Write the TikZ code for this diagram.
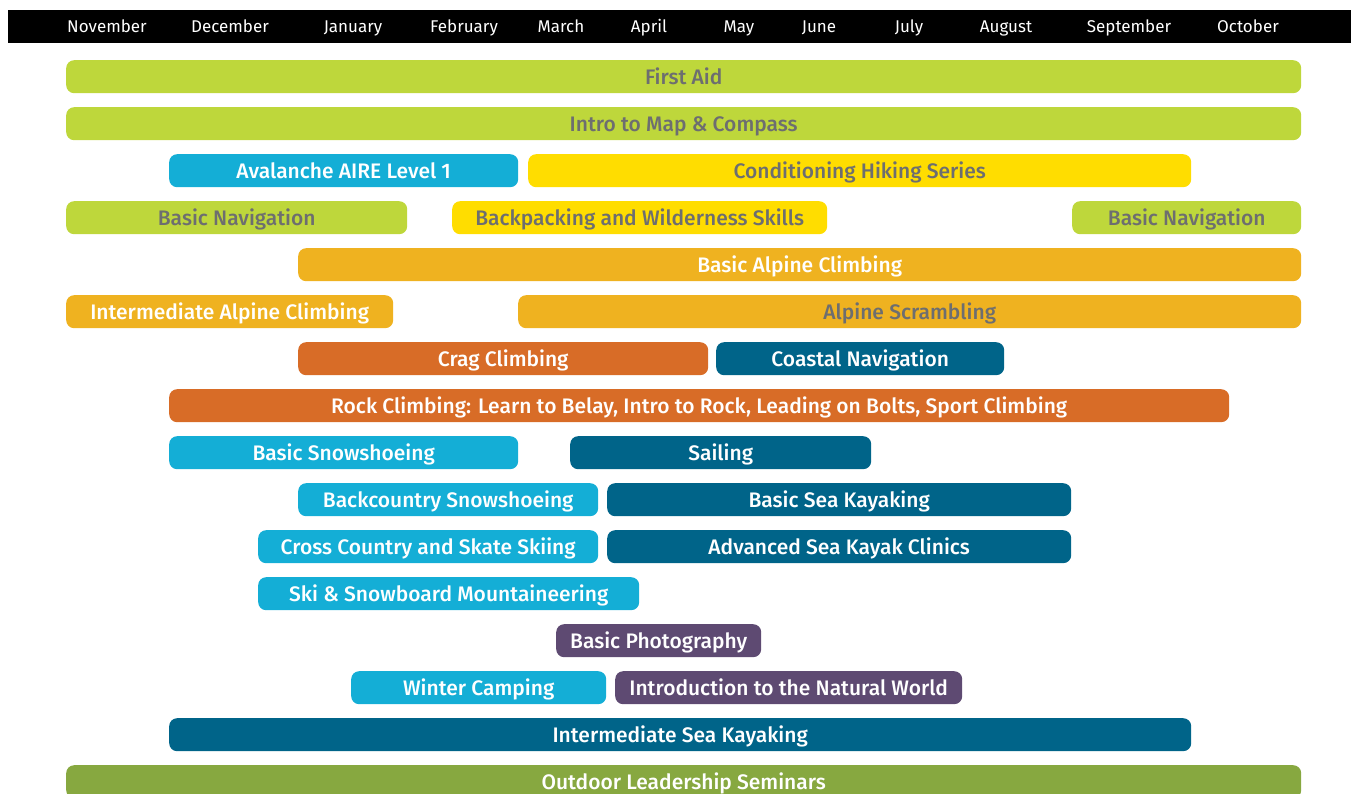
\documentclass[tikz,border=0pt]{standalone}
\usepackage{fontspec}
\setmainfont{Fira Sans}
\newfontfamily\medfont{Fira Sans Medium}
\definecolor{lgreen}{HTML}{BED73B}
\definecolor{gtext}{HTML}{6D6E70}
\definecolor{cyanb}{HTML}{14AED6}
\definecolor{yell}{HTML}{FFDD00}
\definecolor{orng}{HTML}{EFB220}
\definecolor{rust}{HTML}{D86C27}
\definecolor{teal}{HTML}{006489}
\definecolor{purp}{HTML}{5E4A72}
\definecolor{olive}{HTML}{87A840}
\begin{document}
\begin{tikzpicture}[x=1pt,y=-1pt,
  barbox/.style={anchor=north west,rounded corners=8pt,minimum height=33pt,inner sep=0pt,text height=17pt,text depth=2pt,font=\medfont\fontsize{21}{24}\selectfont},
  month/.style={text=white,font=\fontsize{17}{20}\selectfont,inner sep=0pt,anchor=base},
]
\clip (0,0) rectangle (1351,794);
\useasboundingbox (0,0) rectangle (1351,794);
\fill[black] (8,10) rectangle (1351,43);
\node[month] (m1) at (107,33) {November};
\node[month] (m2) at (230,33) {December};
\node[month] (m3) at (353,33) {January};
\node[month] (m4) at (464,33) {February};
\node[month] (m5) at (561,33) {March};
\node[month] (m6) at (649,33) {April};
\node[month] (m7) at (739,33) {May};
\node[month] (m8) at (819,33) {June};
\node[month] (m9) at (909,33) {July};
\node[month] (m10) at (1006,33) {August};
\node[month] (m11) at (1129,33) {September};
\node[month] (m12) at (1248,33) {October};
% row 0
\node[barbox,fill=lgreen,text=gtext,minimum width=1235pt] (b1) at (66,60) {First Aid};
% row 1
\node[barbox,fill=lgreen,text=gtext,minimum width=1235pt] (b2) at (66,107) {Intro to Map \& Compass};
% row 2
\node[barbox,fill=cyanb,text=white,minimum width=349pt] (b3) at (169,154) {Avalanche AIRE Level 1};
\node[barbox,fill=yell,text=gtext,minimum width=663pt] (b4) at (528,154) {Conditioning Hiking Series};
% row 3
\node[barbox,fill=lgreen,text=gtext,minimum width=341pt] (b5) at (66,201) {Basic Navigation};
\node[barbox,fill=yell,text=gtext,minimum width=375pt] (b6) at (452,201) {Backpacking and Wilderness Skills};
\node[barbox,fill=lgreen,text=gtext,minimum width=229pt] (b7) at (1072,201) {Basic Navigation};
% row 4
\node[barbox,fill=orng,text=white,minimum width=1003pt] (b8) at (298,248) {Basic Alpine Climbing};
% row 5
\node[barbox,fill=orng,text=white,minimum width=327pt] (b9) at (66,295) {Intermediate Alpine Climbing};
\node[barbox,fill=orng,text=gtext,minimum width=783pt] (b10) at (518,295) {Alpine Scrambling};
% row 6
\node[barbox,fill=rust,text=white,minimum width=410pt] (b11) at (298,342) {Crag Climbing};
\node[barbox,fill=teal,text=white,minimum width=288pt] (b12) at (716,342) {Coastal Navigation};
% row 7
\node[barbox,fill=rust,text=white,minimum width=1060pt] (b13) at (169,389) {Rock Climbing: Learn to Belay, Intro to Rock, Leading on Bolts, Sport Climbing};
% row 8
\node[barbox,fill=cyanb,text=white,minimum width=349pt] (b14) at (169,436) {Basic Snowshoeing};
\node[barbox,fill=teal,text=white,minimum width=301pt] (b15) at (570,436) {Sailing};
% row 9
\node[barbox,fill=cyanb,text=white,minimum width=300pt] (b16) at (298,483) {Backcountry Snowshoeing};
\node[barbox,fill=teal,text=white,minimum width=464pt] (b17) at (607,483) {Basic Sea Kayaking};
% row 10
\node[barbox,fill=cyanb,text=white,minimum width=340pt] (b18) at (258,530) {Cross Country and Skate Skiing};
\node[barbox,fill=teal,text=white,minimum width=464pt] (b19) at (607,530) {Advanced Sea Kayak Clinics};
% row 11
\node[barbox,fill=cyanb,text=white,minimum width=381pt] (b20) at (258,577) {Ski \& Snowboard Mountaineering};
% row 12
\node[barbox,fill=purp,text=white,minimum width=205pt] (b21) at (556,624) {Basic Photography};
% row 13
\node[barbox,fill=cyanb,text=white,minimum width=255pt] (b22) at (351,671) {Winter Camping};
\node[barbox,fill=purp,text=white,minimum width=347pt] (b23) at (615,671) {Introduction to the Natural World};
% row 14
\node[barbox,fill=teal,text=white,minimum width=1022pt] (b24) at (169,718) {Intermediate Sea Kayaking};
% row 15
\node[barbox,fill=olive,text=white,minimum width=1235pt] (b25) at (66,765) {Outdoor Leadership Seminars};
\end{tikzpicture}
\end{document}
